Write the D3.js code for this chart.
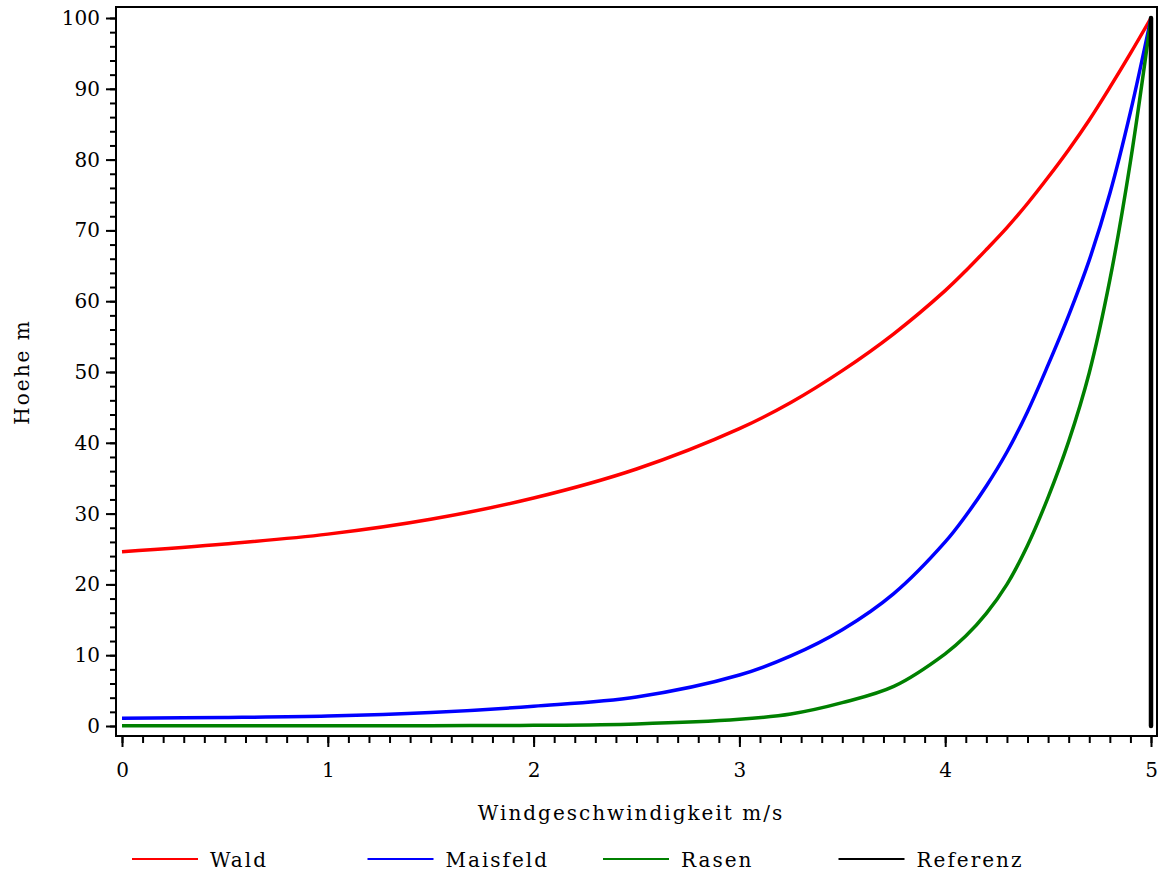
<!DOCTYPE html>
<html>
<head>
<meta charset="utf-8">
<script src="https://cdn.jsdelivr.net/npm/d3@7"></script>
<style>
  body { margin: 0; background: #fff; }
  text { font-family: "DejaVu Serif", serif; fill: #000; }
</style>
</head>
<body>
<div id="chart"></div>
<script>
// Windprofile: Hoehe ueber Windgeschwindigkeit
var speeds   = [0, 0.5, 1, 1.5, 2, 2.5, 3, 3.25, 3.5, 3.75, 4, 4.1, 4.2, 4.3, 4.4, 4.5, 4.6, 4.7, 4.8, 4.9, 5];
var wald     = [24.6, 25.7, 27.1, 29.2, 32.2, 36.3, 42.0, 45.7, 50.2, 55.4, 61.5, 64.3, 67.3, 70.4, 73.8, 77.5, 81.4, 85.6, 90.2, 95.0, 100];
var maisfeld = [1.1, 1.2, 1.4, 1.9, 2.8, 4.1, 7.2, 9.9, 13.6, 18.7, 26.0, 29.7, 33.9, 38.7, 44.4, 51.0, 58.0, 65.8, 75.2, 86.7, 100];
var rasen    = [0.05, 0.05, 0.05, 0.05, 0.1, 0.3, 0.95, 1.7, 3.3, 5.6, 10.2, 12.7, 15.9, 20.0, 25.5, 32.3, 40.2, 49.9, 63.0, 79.7, 100];
var refSpeed = [5, 5];
var refHeight = [0, 100];

var seriesNames = ["Wald", "Maisfeld", "Rasen", "Referenz"];
var seriesColors = ["#ff0000", "#0000ff", "#008000", "#000000"];

var xTicks = [0, 1, 2, 3, 4, 5];
var yTicks = [0, 10, 20, 30, 40, 50, 60, 70, 80, 90, 100];

var W = 1175, H = 877;
var frame = {left: 116, top: 7, right: 1157, bottom: 736};

var svg = d3.select("#chart")
  .append("svg")
    .attr("width", W)
    .attr("height", H);

var x = d3.scaleLinear()
  .domain([0, 5])
  .range([122, 1151]);

var y = d3.scaleLinear()
  .domain([0, 100])
  .range([726, 18]);

// Rahmen
svg.append("rect")
  .attr("x", frame.left)
  .attr("y", frame.top)
  .attr("width", frame.right - frame.left)
  .attr("height", frame.bottom - frame.top)
  .attr("fill", "none")
  .attr("stroke", "#000")
  .attr("stroke-width", 2);

// y-Achse, Neben-Ticks alle 2
var yMinor = d3.range(0, 101, 2);
svg.append("g")
  .attr("transform", "translate(" + frame.left + ",0)")
  .call(d3.axisLeft(y).tickValues(yMinor).tickSize(6).tickFormat(""))
  .call(function (g) { g.select(".domain").remove(); })
  .selectAll("line").attr("stroke-width", 2);

svg.append("g")
  .attr("transform", "translate(" + frame.left + ",0)")
  .call(d3.axisLeft(y).tickValues(yTicks).tickSize(10).tickPadding(6).tickFormat(d3.format("d")))
  .call(function (g) { g.select(".domain").remove(); })
  .call(function (g) {
    g.selectAll("line").attr("stroke-width", 2);
    g.selectAll("text").style("font-size", "20px").style("font-family", "DejaVu Serif");
  });

// x-Achse, Neben-Ticks alle 0.1
var xMinor = d3.range(0, 51).map(function (d) { return d / 10; });
svg.append("g")
  .attr("transform", "translate(0," + frame.bottom + ")")
  .call(d3.axisBottom(x).tickValues(xMinor).tickSize(7).tickFormat(""))
  .call(function (g) { g.select(".domain").remove(); })
  .selectAll("line").attr("stroke-width", 2);

svg.append("g")
  .attr("transform", "translate(0," + frame.bottom + ")")
  .call(d3.axisBottom(x).tickValues(xTicks).tickSize(11).tickPadding(16).tickFormat(d3.format("d")))
  .call(function (g) { g.select(".domain").remove(); })
  .call(function (g) {
    g.selectAll("line").attr("stroke-width", 2);
    g.selectAll("text").style("font-size", "20px").style("font-family", "DejaVu Serif");
  });

// Achsentitel
svg.append("text")
  .attr("x", 631)
  .attr("y", 820)
  .attr("text-anchor", "middle")
  .style("font-size", "20px")
  .style("letter-spacing", "2px")
  .text("Windgeschwindigkeit m/s");

svg.append("text")
  .attr("transform", "translate(29," + (y(0) + y(100)) / 2 + ") rotate(-90)")
  .attr("text-anchor", "middle")
  .style("font-size", "20px")
  .style("letter-spacing", "2px")
  .text("Hoehe m");

// Kurven
var line = d3.line()
  .x(function (d) { return x(d[0]); })
  .y(function (d) { return y(d[1]); })
  .curve(d3.curveCatmullRom.alpha(0.5));

var curves = [wald, maisfeld, rasen];
curves.forEach(function (vals, i) {
  svg.append("path")
    .datum(d3.zip(speeds, vals))
    .attr("fill", "none")
    .attr("stroke", seriesColors[i])
    .attr("stroke-width", 3.5)
    .attr("d", line);
});

svg.append("path")
  .datum(d3.zip(refSpeed, refHeight))
  .attr("fill", "none")
  .attr("stroke", seriesColors[3])
  .attr("stroke-width", 4.5)
  .attr("stroke-linecap", "round")
  .attr("d", d3.line().x(function (d) { return x(d[0]); }).y(function (d) { return y(d[1]); }));

// Legende
var legend = svg.append("g")
  .selectAll("g")
  .data(seriesNames)
  .enter()
  .append("g")
    .attr("transform", function (d, i) { return "translate(" + (132 + i * 235.5) + ",859)"; });

legend.append("line")
  .attr("x1", 0)
  .attr("x2", 66)
  .attr("stroke", function (d, i) { return seriesColors[i]; })
  .attr("stroke-width", 2);

legend.append("text")
  .attr("x", 78)
  .attr("y", 8)
  .style("font-size", "20px")
  .style("letter-spacing", "2px")
  .text(function (d) { return d; });
</script>
</body>
</html>
